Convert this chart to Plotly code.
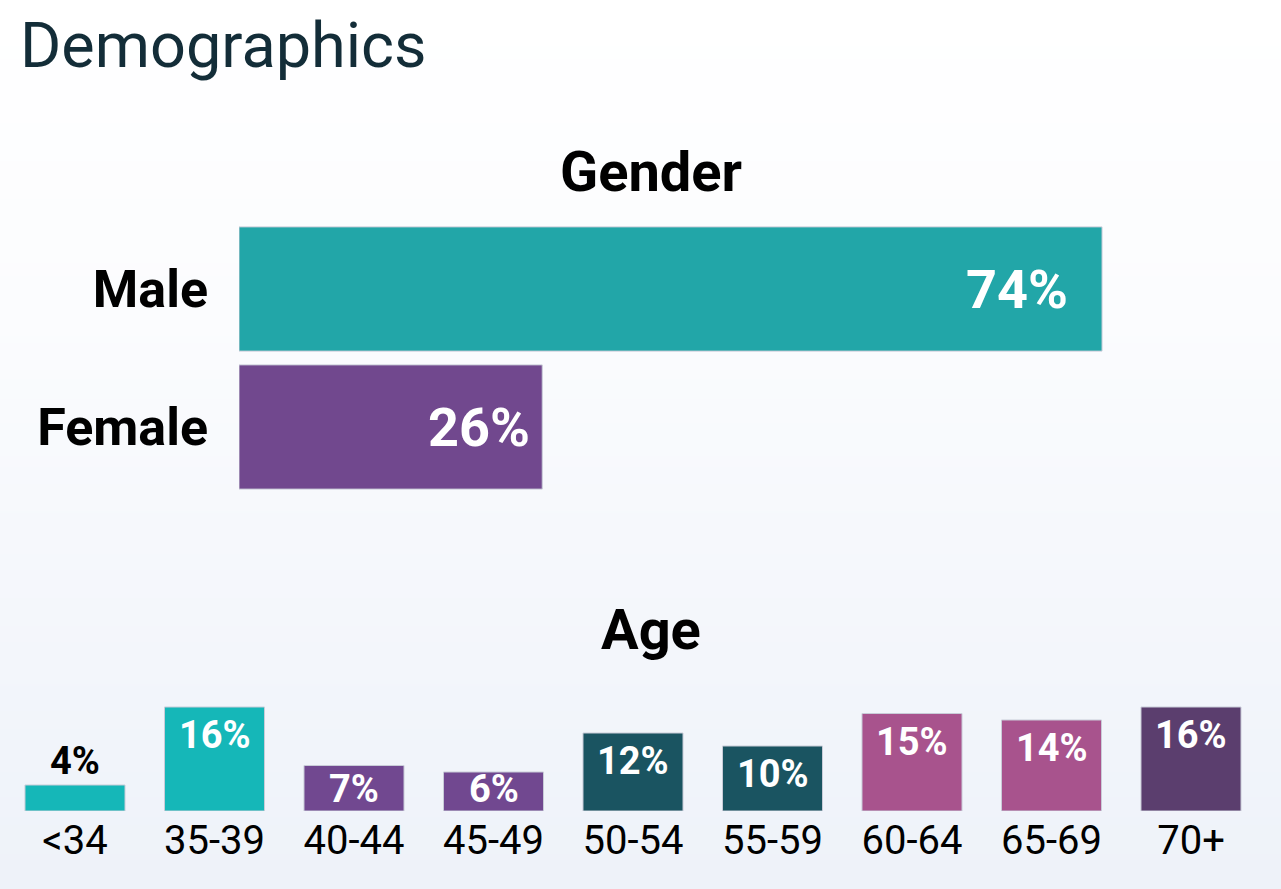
import plotly.graph_objects as go
import numpy as np

W, H = 1281, 889

# ---- data ----
gender_labels = ["Male", "Female"]
gender_values = [74, 26]
gender_colors = ["#22A6A8", "#71488E"]

age_labels = ["<34", "35-39", "40-44", "45-49", "50-54", "55-59", "60-64", "65-69", "70+"]
age_values = [4, 16, 7, 6, 12, 10, 15, 14, 16]
age_colors = ["#15B7B8", "#15B7B8", "#714890", "#714890", "#1A5461", "#1A5461",
              "#A8538D", "#A8538D", "#5B3E6E"]

FONT = "Roboto"

def px_x(p):
    return p / W

def px_y(p):
    return 1 - p / H

AGE_TOP_PX, AGE_BOT_PX, AGE_MAX = 700.5, 811, 17
AGE_SCALE = (AGE_BOT_PX - AGE_TOP_PX) / AGE_MAX

fig = go.Figure()

# background gradient (first subplot, full page, drawn underneath)
grad = np.linspace(0, 1, 60).reshape(-1, 1)
fig.add_trace(go.Heatmap(
    z=grad[::-1], showscale=False, hoverinfo="skip", zsmooth="best",
    colorscale=[[0, "#FFFFFF"], [0.35, "#FBFCFE"], [1, "#EEF2F9"]],
    xaxis="x", yaxis="y"))

# gender bars
fig.add_trace(go.Bar(
    x=gender_values, y=gender_labels, orientation="h",
    marker=dict(color=gender_colors, line=dict(width=1, color="#C9CCD8")),
    xaxis="x2", yaxis="y2", hoverinfo="skip"))

# age bars
fig.add_trace(go.Bar(
    x=age_labels, y=age_values,
    marker=dict(color=age_colors, line=dict(width=1, color="#C9CCD8")),
    xaxis="x3", yaxis="y3", hoverinfo="skip", width=0.717))

annotations = []
# title
annotations.append(dict(text="Demographics", x=px_x(18), y=px_y(45), xref="paper", yref="paper",
                        xanchor="left", yanchor="middle", showarrow=False,
                        font=dict(family=FONT, size=63, color="#132D38")))
annotations.append(dict(text="<b>Gender</b>", x=px_x(651), y=px_y(172), xref="paper", yref="paper",
                        xanchor="center", yanchor="middle", showarrow=False,
                        font=dict(family=FONT, size=56, color="#000000")))
annotations.append(dict(text="<b>Age</b>", x=px_x(651), y=px_y(630), xref="paper", yref="paper",
                        xanchor="center", yanchor="middle", showarrow=False,
                        font=dict(family=FONT, size=56, color="#000000")))

# gender value labels
gender_shift = [-32, -10]
for lab, v, s in zip(gender_labels, gender_values, gender_shift):
    annotations.append(dict(text=f"<b>{v}%</b>", x=v, y=lab, xref="x2", yref="y2",
                            xanchor="right", yanchor="middle", xshift=s, showarrow=False,
                            font=dict(family=FONT, size=54, color="white")))

# age value labels
AGE_FS = 38
for lab, v in zip(age_labels, age_values):
    bar_px = v * AGE_SCALE
    if v >= 5:
        glyph_off = min(14, bar_px - 0.72 * AGE_FS - 9)
        ys = -(glyph_off - 10)
        annotations.append(dict(text=f"<b>{v}%</b>", x=lab, y=v, xref="x3", yref="y3",
                                xanchor="center", yanchor="top", yshift=ys, showarrow=False,
                                font=dict(family=FONT, size=AGE_FS, color="white")))
    else:
        annotations.append(dict(text=f"<b>{v}%</b>", x=lab, y=v, xref="x3", yref="y3",
                                xanchor="center", yanchor="bottom", yshift=0, showarrow=False,
                                font=dict(family=FONT, size=AGE_FS, color="black")))

fig.update_layout(
    width=W, height=H,
    margin=dict(l=0, r=0, t=0, b=0),
    paper_bgcolor="white",
    plot_bgcolor="rgba(0,0,0,0)",
    showlegend=False,
    bargap=0.1,
    xaxis=dict(domain=[0, 1], visible=False, fixedrange=True),
    yaxis=dict(domain=[0, 1], visible=False, fixedrange=True),
    xaxis2=dict(domain=[px_x(239), px_x(1172)], range=[0, 80], visible=False, anchor="y2"),
    yaxis2=dict(domain=[px_y(496), px_y(220)], anchor="x2", autorange="reversed",
                showgrid=False, zeroline=False, showline=False, ticks="",
                ticklabelstandoff=30,
                tickfont=dict(family=FONT, size=52, color="black", weight="bold")),
    xaxis3=dict(domain=[px_x(5.25), px_x(1260.75)], anchor="y3",
                showgrid=False, zeroline=False, showline=False, ticks="",
                ticklabelstandoff=2,
                tickfont=dict(family=FONT, size=40, color="black")),
    yaxis3=dict(domain=[px_y(AGE_BOT_PX), px_y(AGE_TOP_PX)], range=[0, AGE_MAX],
                anchor="x3", visible=False),
    annotations=annotations,
)

fig.write_html("out.html")
